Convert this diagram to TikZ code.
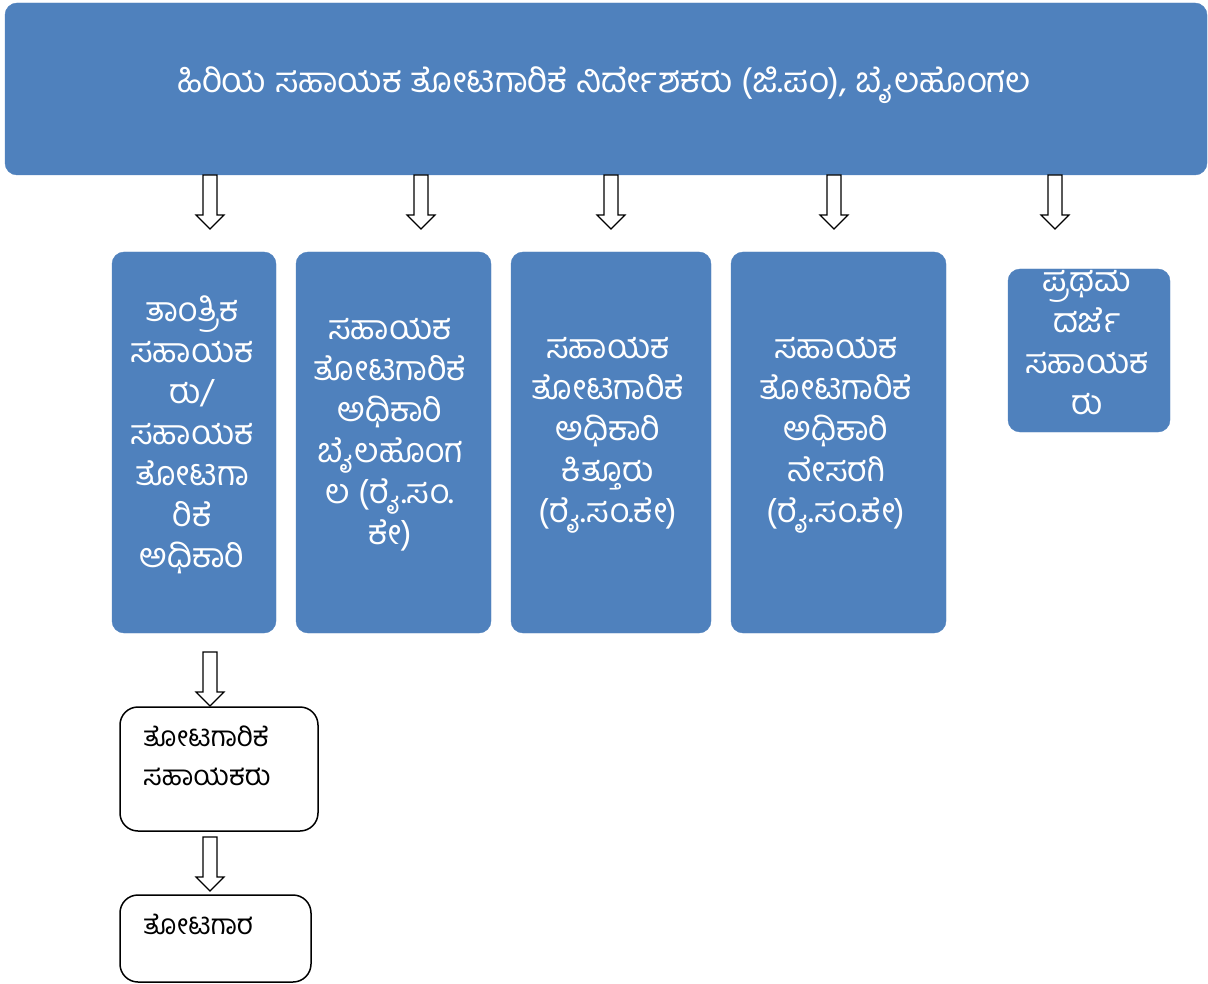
\documentclass[tikz,border=0pt]{standalone}
\usepackage{fontspec}
\newfontfamily\kn[Script=Kannada]{Hind Mysuru}
\definecolor{boxblue}{HTML}{4F81BD}
\tikzset{
  bluebox/.style={fill=boxblue, draw=boxblue, rounded corners=12pt, inner sep=0pt},
  whitebox/.style={fill=white, draw=black, line width=1.5pt, rounded corners=18pt, inner sep=0pt},
  wtext/.style={text=white, align=center, inner sep=0pt, font=\kn\fontsize{34pt}{41pt}\selectfont},
  ttext/.style={text=white, align=center, inner sep=0pt, font=\kn\fontsize{35pt}{41pt}\selectfont},
  btext/.style={text=black, align=left, inner sep=0pt, font=\kn\fontsize{28pt}{39pt}\selectfont},
  hollow/.style={fill=white, draw=black, line width=1.2pt, line join=miter}
}
\newcommand\harrow[3]{% x, ytop, ytip
  \draw[hollow] (#1-7,#2) -- (#1-7,#3-14) -- (#1-14,#3-14) -- (#1,#3) -- (#1+14,#3-14) -- (#1+7,#3-14) -- (#1+7,#2) -- cycle;}
\begin{document}
\begin{tikzpicture}[x=1pt,y=-1pt]
\useasboundingbox (0,0) rectangle (1208,984);
% boxes
\node[bluebox, minimum width=1202pt, minimum height=172pt] (top) at (606,89) {};
\node[bluebox, minimum width=164pt, minimum height=381pt] (b1) at (194,442.5) {};
\node[bluebox, minimum width=195pt, minimum height=381pt] (b2) at (393.5,442.5) {};
\node[bluebox, minimum width=200pt, minimum height=381pt] (b3) at (611,442.5) {};
\node[bluebox, minimum width=215pt, minimum height=381pt] (b4) at (838.5,442.5) {};
\node[bluebox, minimum width=162pt, minimum height=163pt] (b5) at (1089,350.5) {};
\node[whitebox, minimum width=198pt, minimum height=124pt] (b6) at (219,769) {};
\node[whitebox, minimum width=191pt, minimum height=87pt] (b7) at (215.5,938.5) {};
% texts
\node[ttext] (t0) at (604,85) {ಹಿರಿಯ ಸಹಾಯಕ ತೋಟಗಾರಿಕೆ ನಿರ್ದೇಶಕರು (ಜಿ.ಪಂ), ಬೈಲಹೊಂಗಲ};
\node[wtext] (t1) at (192,434.5) {ತಾಂತ್ರಿಕ\\ಸಹಾಯಕ\\ರು/\\ಸಹಾಯಕ\\ತೋಟಗಾ\\ರಿಕೆ\\ಅಧಿಕಾರಿ};
\node[wtext] (t2) at (390,434.5) {ಸಹಾಯಕ\\ತೋಟಗಾರಿಕೆ\\ಅಧಿಕಾರಿ\\ಬೈಲಹೊಂಗ\\ಲ (ರೈ.ಸಂ.\\ಕೇ)};
\node[wtext] (t3) at (608,435) {ಸಹಾಯಕ\\ತೋಟಗಾರಿಕೆ\\ಅಧಿಕಾರಿ\\ಕಿತ್ತೂರು\\(ರೈ.ಸಂ.ಕೇ)};
\node[wtext] (t4) at (836,435) {ಸಹಾಯಕ\\ತೋಟಗಾರಿಕೆ\\ಅಧಿಕಾರಿ\\ನೇಸರಗಿ\\(ರೈ.ಸಂ.ಕೇ)};
\begin{scope}
\clip[rounded corners=12pt] (b5.north west) rectangle (b5.south east);
\node[wtext] (t5) at (1087,343) {ಪ್ರಥಮ\\ದರ್ಜೆ\\ಸಹಾಯಕ\\ರು};
\end{scope}
\node[btext, anchor=west] (t6) at (143,756) {ತೋಟಗಾರಿಕೆ\\ಸಹಾಯಕರು};
\node[btext, anchor=west] (t7) at (143,924) {ತೋಟಗಾರ};
% arrows
\harrow{210}{175}{229}
\harrow{421}{175}{229}
\harrow{611}{175}{229}
\harrow{834}{175}{229}
\harrow{1055}{175}{229}
\harrow{210}{652}{706}
\harrow{210}{837}{891}
\end{tikzpicture}
\end{document}
